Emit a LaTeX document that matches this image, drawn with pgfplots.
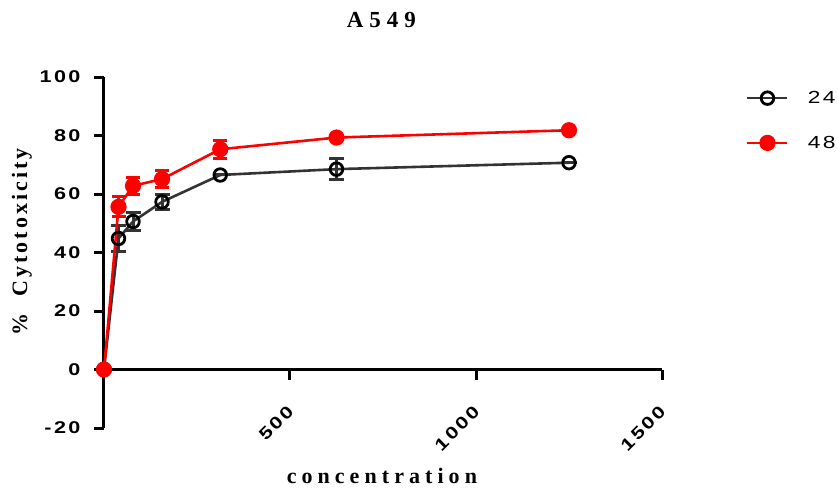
\documentclass[border=0pt]{standalone}
\usepackage{fontspec}
\setmainfont{Liberation Sans}
\newfontfamily\tickfont[FakeStretch=1.27, LetterSpace=14]{Liberation Sans Bold}
\newfontfamily\legfont[FakeStretch=1.3, LetterSpace=14]{Liberation Sans}
\newfontfamily\titlefont[LetterSpace=26]{Liberation Serif Bold}
\newfontfamily\xlabfont[LetterSpace=23]{Liberation Serif Bold}
\newfontfamily\ylabfont[LetterSpace=14]{Liberation Serif Bold}
\usepackage{pgfplots}
\pgfplotsset{compat=1.18}
\definecolor{dgray}{HTML}{333333}
\definecolor{pred}{HTML}{FF0000}
\pgfplotstableread{
x y e
0 0 0
39 44.8 4.4
78 50.6 3.0
156 57.3 2.7
312.5 66.5 0
625 68.5 3.7
1250 70.7 0
}\tfour
\pgfplotstableread{
x y e
0 0 0
39 55.6 3.4
78 62.8 2.8
156 65.1 3.0
312.5 75.3 3.0
625 79.3 0
1250 81.8 0
}\teight
\begin{document}
\begin{tikzpicture}
\begin{axis}[
  scale only axis, width=558pt, height=351pt,
  xmin=0, xmax=1500, ymin=-20, ymax=100,
  axis x line*=middle, axis y line*=left,
  hide obscured x ticks=false, hide obscured y ticks=false,
  axis line style={line width=3pt, black, -},
  tick style={line width=3pt, black},
  major tick length=10pt, tick align=outside,
  xtick={500,1000,1500}, xticklabels={500,1000,1500},
  ytick={-20,0,20,40,60,80,100}, yticklabels={-20,0,20,40,60,80,100},
  tick label style={font=\tickfont\fontsize{17}{20}\selectfont},
  yticklabel style={xshift=-10pt},
  xticklabel style={yshift=-27pt, xshift=3pt, rotate=45, anchor=east},
  clip=false,
  title={\titlefont\fontsize{23}{27}\selectfont A549},
  title style={at={(axis description cs:0.497,1.1245)}, anchor=base},
  xlabel={\xlabfont\fontsize{22}{26}\selectfont concentration},
  every axis x label/.style={at={(axis description cs:0.498,-0.158)}, anchor=base},
  ylabel={\ylabfont\fontsize{22}{26}\selectfont \%\ \ Cytotoxicity},
  every axis y label/.style={at={(axis description cs:-0.147,0.53)}, rotate=90, anchor=center},
  legend cell align=left,
  legend image code/.code={\draw[mark repeat=2, mark phase=2, #1] plot coordinates {(0pt,0pt) (20pt,0pt) (40pt,0pt)};},
  legend style={at={(axis description cs:1.1505,0.876)}, anchor=west, draw=none, fill=none,
    font=\legfont\fontsize{17.5}{21}\selectfont, row sep=27pt, column sep=17pt, inner sep=0pt},
]
\addplot[dgray, line width=2.6pt, mark=o, mark size=6.3pt,
  mark options={black, line width=2.8pt, solid},
  error bars/.cd, y dir=both, y explicit,
  error bar style={dgray, line width=3pt},
  error mark options={dgray, line width=3pt, mark size=7.5pt, rotate=90}]
  table[x=x, y=y, y error=e] {\tfour};
\addlegendentry{24}
\addplot[pred, line width=2.6pt, mark=*, mark size=6.8pt,
  mark options={pred, solid},
  error bars/.cd, y dir=both, y explicit,
  error bar style={pred, line width=3pt},
  error mark options={pred, line width=3pt, mark size=7pt, rotate=90}]
  table[x=x, y=y, y error=e] {\teight};
\addlegendentry{48}
\end{axis}
\pgfresetboundingbox
\path (-104pt,-60pt) rectangle (734pt,428pt);
\end{tikzpicture}
\end{document}
